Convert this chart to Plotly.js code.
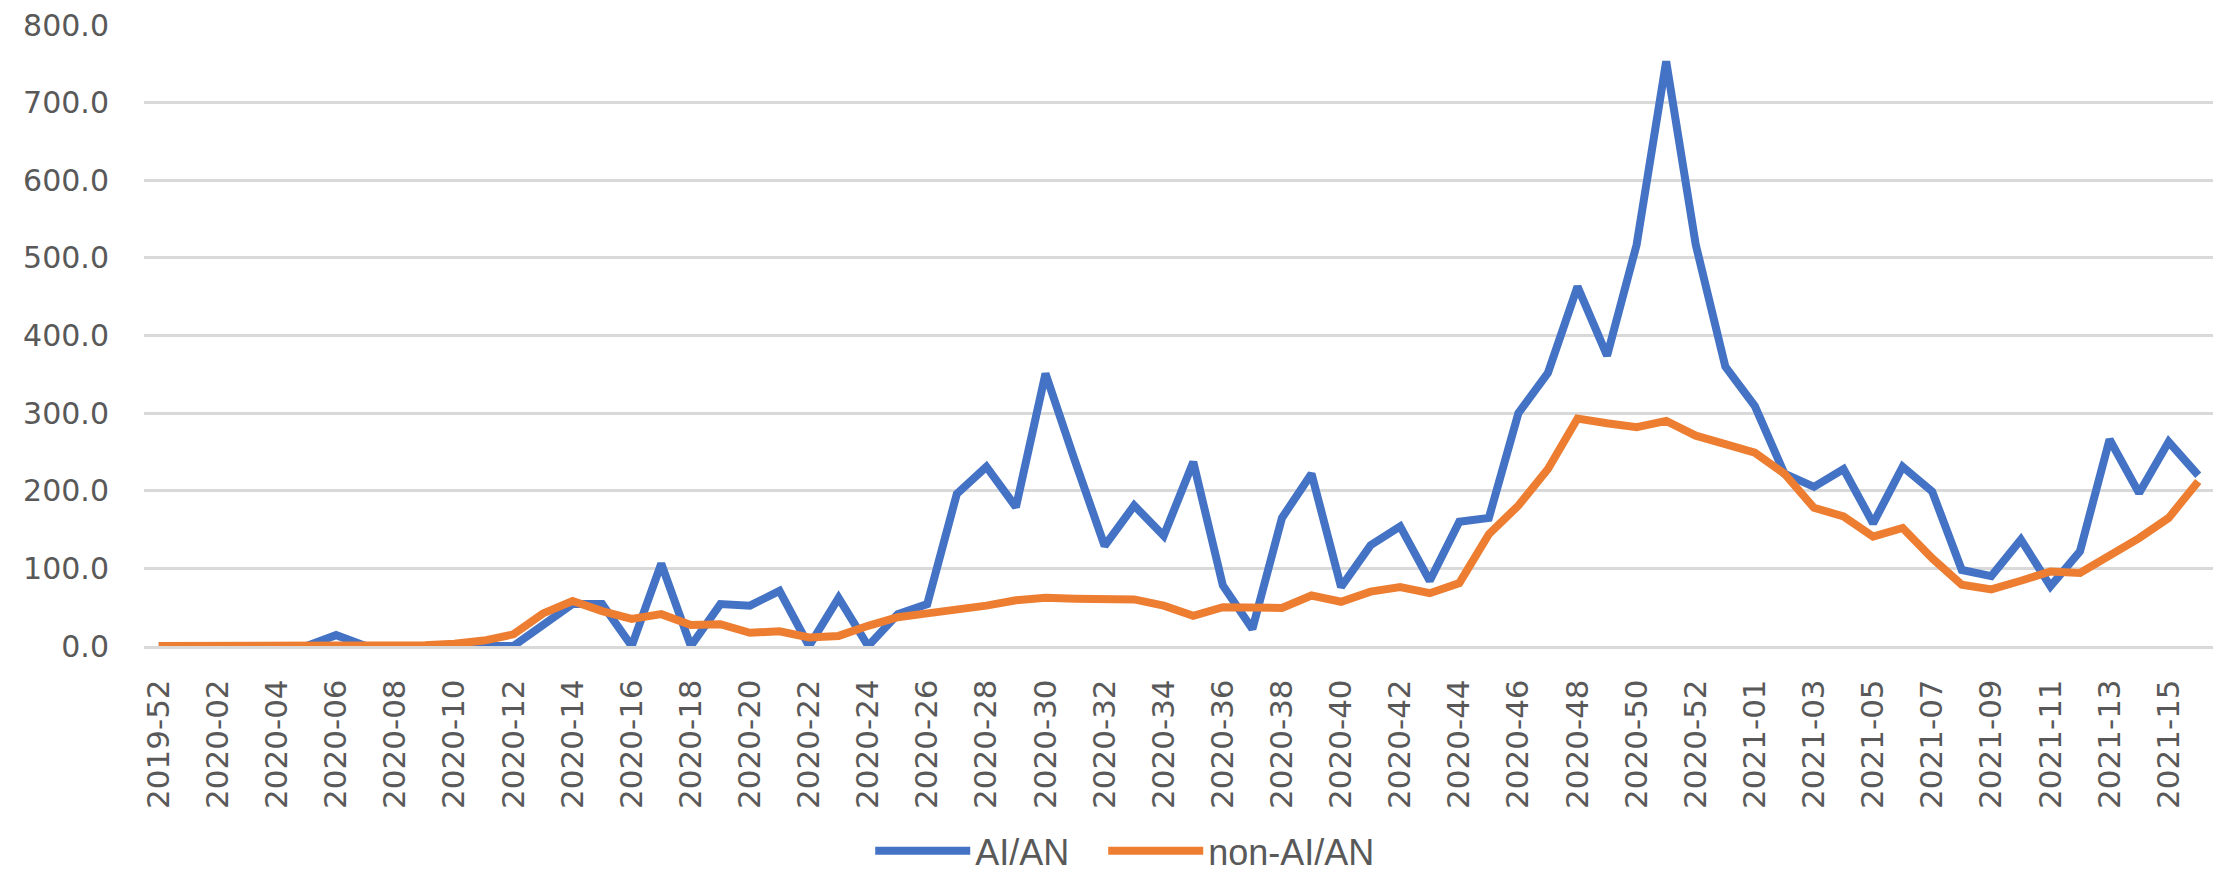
<!DOCTYPE html>
<html>
<head>
<meta charset="utf-8">
<script src="https://cdn.plot.ly/plotly-3.0.1.min.js"></script>
<style>
html, body { margin: 0; padding: 0; background: #ffffff; }
#chart { width: 2221px; height: 889px; }
</style>
</head>
<body>
<div id="chart"></div>
<script>
const weeks = [
  "2019-52",
  "2020-01","2020-02","2020-03","2020-04","2020-05","2020-06","2020-07","2020-08","2020-09","2020-10",
  "2020-11","2020-12","2020-13","2020-14","2020-15","2020-16","2020-17","2020-18","2020-19","2020-20",
  "2020-21","2020-22","2020-23","2020-24","2020-25","2020-26","2020-27","2020-28","2020-29","2020-30",
  "2020-31","2020-32","2020-33","2020-34","2020-35","2020-36","2020-37","2020-38","2020-39","2020-40",
  "2020-41","2020-42","2020-43","2020-44","2020-45","2020-46","2020-47","2020-48","2020-49","2020-50",
  "2020-51","2020-52","2020-53",
  "2021-01","2021-02","2021-03","2021-04","2021-05","2021-06","2021-07","2021-08","2021-09","2021-10",
  "2021-11","2021-12","2021-13","2021-14","2021-15","2021-16"
];

const aian = [
  0, 0, 0, 0, 0, 0, 14, 0, 0, 0,
  0, 0, 0, 27, 54, 54, 0, 106, 0, 54,
  52, 71, 0, 62, 0, 41, 54, 196, 231, 179,
  351, 238, 129, 181, 142, 237, 78, 22, 165, 222,
  76, 130, 154, 84, 160, 165, 300, 352, 463, 374,
  517, 753, 517, 360, 309, 222, 205, 228, 158, 231,
  199, 98, 90, 137, 77, 122, 266, 197, 263, 220
];

const nonAian = [
  0, 0, 0, 0, 0, 0, 0, 0, 0, 1,
  3, 7, 15, 42, 58, 45, 35, 41, 27, 28,
  17, 19, 11, 13, 26, 37, 42, 46, 52, 59,
  62, 61, 61, 60, 52, 39, 50, 49, 49, 65,
  57, 70, 76, 68, 81, 144, 181, 228, 293, 287,
  282, 290, 271, 260, 249, 222, 178, 167, 141, 152,
  113, 79, 73, 84, 96, 94, 116, 139, 165, 212
];

const seriesNames = ["AI/AN", "non-AI/AN"];
const tickWeeks = weeks.filter((w, i) => i % 2 === 0);

const textColor = "#595959";
const gridColor = "#d9d9d9";

const traces = [
  {
    x: weeks, y: aian, name: seriesNames[0], type: "scatter", mode: "lines",
    line: { color: "#4472C4", width: 8 }, legendwidth: 123
  },
  {
    x: weeks, y: nonAian, name: seriesNames[1], type: "scatter", mode: "lines",
    line: { color: "#ED7D31", width: 8 }, legendwidth: 180
  }
];

const layout = {
  width: 2221, height: 889,
  margin: { l: 144, r: 8, t: 25, b: 243 },
  paper_bgcolor: "#ffffff", plot_bgcolor: "#ffffff",
  showlegend: true,
  legend: {
    orientation: "h", x: 0.351, xanchor: "left", y: -0.33, yanchor: "middle",
    font: { family: "Liberation Sans, Arial, sans-serif", size: 36, color: textColor },
    itemwidth: 95,
    bgcolor: "rgba(0,0,0,0)"
  },
  xaxis: {
    type: "category",
    categoryorder: "array", categoryarray: weeks,
    range: [-0.5, weeks.length - 0.5],
    tickmode: "array", tickvals: tickWeeks, ticktext: tickWeeks,
    tickangle: -90,
    ticks: "outside", ticklen: 18, tickcolor: "rgba(0,0,0,0)",
    tickfont: { family: "DejaVu Sans, sans-serif", size: 31, color: textColor },
    showgrid: false, zeroline: false,
    showline: true, linecolor: gridColor, linewidth: 3
  },
  yaxis: {
    range: [0, 800], dtick: 100, tick0: 0, tickformat: ".1f",
    ticks: "outside", ticklen: 28, tickcolor: "rgba(0,0,0,0)",
    tickfont: { family: "DejaVu Sans, sans-serif", size: 30, color: textColor },
    showgrid: true, gridcolor: gridColor, gridwidth: 3,
    zeroline: false, showline: false
  }
};

Plotly.newPlot("chart", traces, layout, { displayModeBar: false, staticPlot: true });
</script>
</body>
</html>
